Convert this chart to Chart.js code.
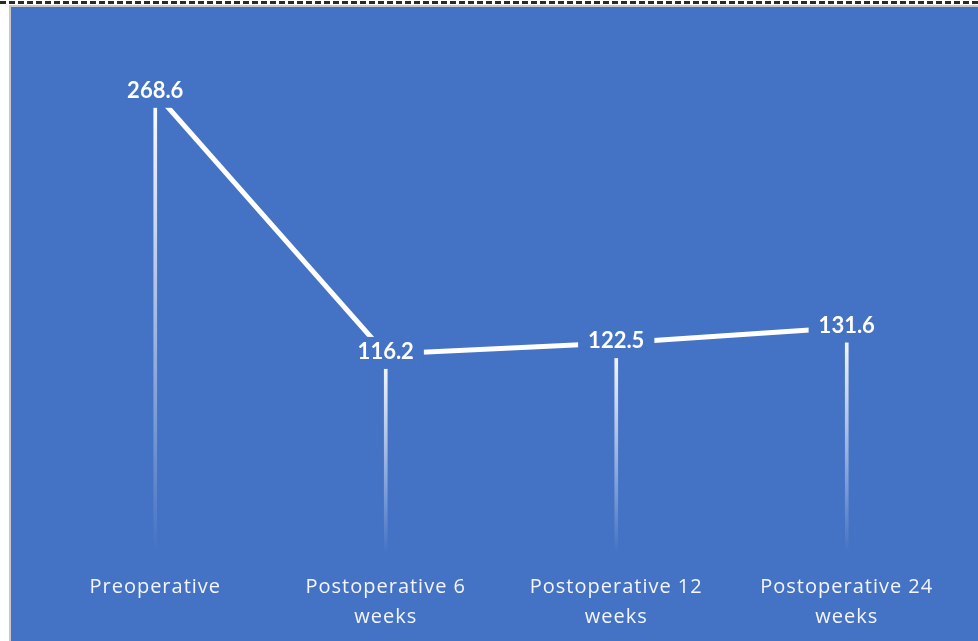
<!DOCTYPE html>
<html>
<head>
<meta charset="utf-8">
<script src="https://cdn.jsdelivr.net/npm/chart.js@4"></script>
<style>
  html, body { margin: 0; padding: 0; background: #ffffff; width: 978px; height: 641px; overflow: hidden; position: relative; }
  #topline { position: absolute; left: 0; top: 1px; width: 978px; height: 0; border-top: 3px dashed #2a2a2a; }
  #topgray { position: absolute; left: 9px; top: 5px; width: 969px; height: 2px; background: #c8c8c8; }
  #leftgray { position: absolute; left: 9px; top: 5px; width: 2px; height: 636px; background: #c8c8c8; }
  #chart { position: absolute; left: 11px; top: 7px; background: #4472C4; }
</style>
</head>
<body>
<div id="topline"></div>
<div id="topgray"></div>
<div id="leftgray"></div>
<canvas id="chart" width="967" height="634"></canvas>
<script>
const categories = [
  ['Preoperative'],
  ['Postoperative 6', 'weeks'],
  ['Postoperative 12', 'weeks'],
  ['Postoperative 24', 'weeks']
];
const values = [268.6, 116.2, 122.5, 131.6];
const valueLabels = ['268.6', '116.2', '122.5', '131.6'];
const yMin = 0;
const yMax = 300;

const BLUE = '#4472C4';

const spacingPlugin = {
  id: 'spacing',
  beforeDraw(chart) {
    chart.ctx.letterSpacing = '1px';
  }
};

const labelPlugin = {
  id: 'pointLabels',
  afterDatasetsDraw(chart) {
    const ctx = chart.ctx;
    const meta = chart.getDatasetMeta(0);
    ctx.save();
    ctx.letterSpacing = '0px';
    ctx.font = 'bold 22px Lato';
    ctx.textAlign = 'center';
    ctx.textBaseline = 'middle';
    meta.data.forEach((pt, i) => {
      const txt = valueLabels[i];
      const w = ctx.measureText(txt).width + 20;
      const h = 32;
      ctx.fillStyle = BLUE;
      ctx.fillRect(pt.x - w / 2, pt.y - h / 2 - 1, w, h);
      ctx.fillStyle = '#ffffff';
      ctx.fillText(txt, pt.x, pt.y - 2);
    });
    ctx.restore();
  }
};

new Chart(document.getElementById('chart'), {
  type: 'bar',
  data: {
    labels: categories,
    datasets: [
      {
        type: 'line',
        data: values,
        borderColor: '#ffffff',
        borderWidth: 5,
        pointRadius: 0,
        tension: 0,
        order: 0
      },
      {
        type: 'bar',
        data: values,
        barThickness: 3,
        order: 1,
        backgroundColor(c) {
          const chart = c.chart;
          if (!chart.chartArea || !chart.scales.y) return 'rgba(255,255,255,0.6)';
          const ys = chart.scales.y;
          const top = ys.getPixelForValue(c.raw);
          const bot = ys.getPixelForValue(0);
          const g = chart.ctx.createLinearGradient(0, top, 0, bot);
          g.addColorStop(0, 'rgba(255,255,255,1)');
          g.addColorStop(1, 'rgba(255,255,255,0)');
          return g;
        }
      }
    ]
  },
  options: {
    responsive: false,
    animation: false,
    events: [],
    layout: { padding: { left: 29, right: 16, top: 32, bottom: 0 } },
    plugins: { legend: { display: false }, tooltip: { enabled: false } },
    scales: {
      x: {
        offset: true,
        grid: { display: false, drawTicks: false },
        border: { display: false },
        ticks: {
          color: '#f4f6fb',
          font: { family: "'Open Sans'", size: 20, lineHeight: '30px' },
          padding: 19,
          maxRotation: 0,
          autoSkip: false
        },
        afterFit(scale) { scale.height = 88; }
      },
      y: {
        display: false,
        min: yMin,
        max: yMax
      }
    }
  },
  plugins: [spacingPlugin, labelPlugin]
});
</script>
</body>
</html>
